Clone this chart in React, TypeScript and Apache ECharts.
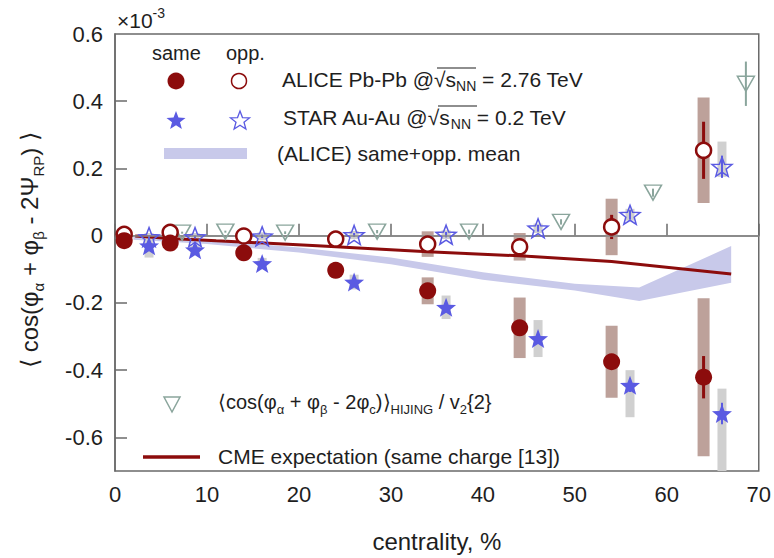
import React, { useEffect, useRef } from "react";
import * as echarts from "echarts";

const FONT = '"Liberation Sans", Arial, Helvetica, sans-serif';
const RED = "#8c0c0c";
const BLUE = "#5a5ae2";
const BAND = "#c8c9ea";
const ALICE_SYS = "#bda19a";
const STAR_SYS = "#d0d0d0";
const HIJING_COL = "#8aa59c";
const TEXT = "#1e1e1e";

// ALICE Pb-Pb @ 2.76 TeV
const aliceX = [1, 6, 14, 24, 34, 44, 54, 64];
const aliceSame = [-0.015, -0.022, -0.051, -0.103, -0.164, -0.274, -0.375, -0.421];
const aliceOpp = [0.004, 0.01, -0.001, -0.01, -0.025, -0.033, 0.026, 0.254];
const aliceSameStat = [0.004, 0.005, 0.006, 0.008, 0.012, 0.018, 0.022, 0.063];
const aliceOppStat = [0.004, 0.005, 0.006, 0.008, 0.012, 0.018, 0.036, 0.085];
const aliceSameSys = [0.008, 0.01, 0.015, 0.02, 0.04, 0.09, 0.107, 0.235];
const aliceOppSys = [0.006, 0.008, 0.012, 0.018, 0.038, 0.041, 0.084, 0.157];

// STAR Au-Au @ 0.2 TeV
const starX = [3.7, 8.7, 16, 26, 36, 46, 56, 66];
const starSame = [-0.03, -0.042, -0.083, -0.138, -0.213, -0.306, -0.445, -0.529];
const starOpp = [-0.004, -0.004, -0.002, 0.002, 0.003, 0.022, 0.062, 0.205];
const starSameStat = [0.005, 0.005, 0.006, 0.008, 0.01, 0.014, 0.02, 0.032];
const starOppStat = [0.004, 0.004, 0.005, 0.006, 0.008, 0.01, 0.014, 0.033];
const starSameSysLow = [-0.065, -0.055, -0.1, -0.16, -0.248, -0.361, -0.54, -0.72];
const starSameSysHigh = [0.005, -0.029, -0.066, -0.116, -0.178, -0.251, -0.4, -0.455];
const starOppSysLow = [-0.016, -0.016, -0.014, -0.01, -0.01, 0.008, 0.045, 0.175];
const starOppSysHigh = [0.008, 0.008, 0.01, 0.014, 0.016, 0.036, 0.08, 0.28];

// HIJING <cos(phi_a + phi_b - 2 phi_c)> / v2{2}
const hijingX = [7.3, 12, 18.5, 28.5, 38.5, 48.5, 58.5, 68.6];
const hijingY = [0.009, 0.012, 0.009, 0.012, 0.012, 0.041, 0.128, 0.452];
const hijingErr = [0.003, 0.003, 0.004, 0.005, 0.006, 0.008, 0.012, 0.066];

// CME expectation (same charge)
const cmeX = [2.2, 6, 11, 22, 34, 44, 54, 61, 67];
const cmeY = [-0.001, -0.008, -0.015, -0.03, -0.048, -0.06, -0.077, -0.097, -0.114];

// (ALICE) same+opp. mean band
const bandX = [2, 10, 20, 30, 40, 50, 57, 67];
const bandUpper = [-0.002, -0.012, -0.035, -0.065, -0.109, -0.143, -0.154, -0.031];
const bandLower = [-0.012, -0.025, -0.05, -0.085, -0.131, -0.163, -0.194, -0.14];

// axis ticks
const xTicks = [0, 10, 20, 30, 40, 50, 60, 70];
const yTickMarks = [-0.6, -0.4, -0.2, 0, 0.2, 0.4];
const yTickLabels = [-0.6, -0.4, -0.2, 0, 0.2, 0.4, 0.6];

const STAR_PATH =
  "path://M100,0 L124.7,66 L195.1,69.1 L139.9,113 L158.8,180.9 L100,142 L41.2,180.9 L60.1,113 L4.9,69.1 L75.3,66 Z";

function starPoints(cx: number, cy: number, R: number, ratio = 0.42) {
  const pts: number[][] = [];
  for (let k = 0; k < 10; k++) {
    const a = -Math.PI / 2 + (k * Math.PI) / 5;
    const r = k % 2 === 0 ? R : R * ratio;
    pts.push([cx + r * Math.cos(a), cy + r * Math.sin(a)]);
  }
  return pts;
}

function clipToGrid(shape: any, params: any) {
  const cs = params.coordSys;
  return echarts.graphic.clipRectByRect(shape, {
    x: cs.x,
    y: cs.y,
    width: cs.width,
    height: cs.height,
  });
}

function boxSeries(data: number[][], width: number, color: string, z: number) {
  return {
    type: "custom",
    silent: true,
    z,
    data,
    renderItem: (params: any, api: any) => {
      const x = api.value(0);
      const top = api.coord([x, api.value(2)]);
      const bot = api.coord([x, api.value(1)]);
      const shape = clipToGrid(
        { x: top[0] - width / 2, y: top[1], width, height: bot[1] - top[1] },
        params
      );
      if (!shape) return null;
      return { type: "rect", shape, style: { fill: color } };
    },
  };
}

function errSeries(data: number[][], color: string, lineWidth: number, z: number) {
  return {
    type: "custom",
    silent: true,
    z,
    data,
    renderItem: (params: any, api: any) => {
      const x = api.value(0);
      const a = api.coord([x, api.value(1)]);
      const b = api.coord([x, api.value(2)]);
      return {
        type: "line",
        shape: { x1: a[0], y1: a[1], x2: b[0], y2: b[1] },
        style: { stroke: color, lineWidth },
      };
    },
  };
}

const symErr = (xs: number[], ys: number[], es: number[]) =>
  xs.map((x, i) => [x, ys[i] - es[i], ys[i] + es[i]]);
const loHi = (xs: number[], lo: number[], hi: number[]) => xs.map((x, i) => [x, lo[i], hi[i]]);
const pairs = (xs: number[], ys: number[]) => xs.map((x, i) => [x, ys[i]]);

function buildOption() {
  const txt = (x: number, y: number, text: string, fontSize: number, rich?: any) => ({
    type: "text",
    x,
    y,
    silent: true,
    style: {
      text,
      fontSize,
      fontFamily: FONT,
      fill: TEXT,
      verticalAlign: "middle",
      rich,
    },
  });
  const overline = (x1: number, x2: number, y: number) => ({
    type: "line",
    silent: true,
    shape: { x1, y1: y, x2, y2: y },
    style: { stroke: TEXT, lineWidth: 1.2 },
  });

  const legendRich = {
    t: { fontSize: 21, fontFamily: FONT, fill: TEXT, lineHeight: 28 },
    s: { fontSize: 14, fontFamily: FONT, fill: TEXT, lineHeight: 14, verticalAlign: "bottom" },
  };
  const hijingRich = {
    t: { fontSize: 20, fontFamily: FONT, fill: TEXT, lineHeight: 28 },
    s: { fontSize: 13, fontFamily: FONT, fill: TEXT, lineHeight: 13, verticalAlign: "bottom" },
  };

  return {
    animation: false,
    grid: {
      left: 115,
      right: 14,
      top: 34,
      bottom: 76,
      show: true,
      borderColor: "#6a6a6a",
      borderWidth: 1.5,
    },
    xAxis: {
      type: "value",
      min: xTicks[0],
      max: xTicks[xTicks.length - 1],
      interval: 10,
      name: "centrality, %",
      nameLocation: "middle",
      nameGap: 58,
      nameTextStyle: { fontSize: 24, fontFamily: FONT, color: TEXT },
      axisLine: { lineStyle: { color: "#6a6a6a", width: 1.5 } },
      axisTick: { inside: true, length: 12, lineStyle: { color: "#6a6a6a", width: 1.5 } },
      axisLabel: { fontSize: 22, fontFamily: FONT, color: TEXT, margin: 12 },
      splitLine: { show: false },
    },
    yAxis: {
      type: "value",
      min: -0.7,
      max: 0.6,
      axisLine: { show: true, lineStyle: { color: "#6a6a6a", width: 1.5 } },
      axisTick: {
        show: true,
        inside: true,
        length: 12,
        customValues: yTickMarks,
        lineStyle: { color: "#6a6a6a", width: 1.5 },
      },
      axisLabel: {
        fontSize: 22,
        fontFamily: FONT,
        color: TEXT,
        margin: 12,
        customValues: yTickLabels,
        formatter: (v: number) => String(Math.round(v * 10) / 10),
      },
      splitLine: { show: false },
    },
    graphic: [
      // y axis title
      {
        type: "text",
        x: 29,
        y: 250,
        rotation: Math.PI / 2,
        silent: true,
        style: {
          text: "{t|⟨ cos(φ}{s|α}{t| + φ}{s|β}{t| - 2Ψ}{s|RP}{t|) ⟩}",
          align: "center",
          verticalAlign: "middle",
          rich: {
            t: { fontSize: 24, fontFamily: FONT, fill: TEXT, lineHeight: 34 },
            s: { fontSize: 15, fontFamily: FONT, fill: TEXT, lineHeight: 15, verticalAlign: "bottom" },
          },
        },
      },
      // exponent
      {
        type: "text",
        x: 117,
        y: 20,
        silent: true,
        style: {
          text: "{a|×10}{b|-3}",
          verticalAlign: "middle",
          rich: {
            a: { fontSize: 21, fontFamily: FONT, fill: TEXT, lineHeight: 28 },
            b: { fontSize: 14, fontFamily: FONT, fill: TEXT, lineHeight: 14, verticalAlign: "top" },
          },
        },
      },
      // legend header
      txt(152, 53, "same", 20),
      txt(226, 53, "opp.", 20),
      // ALICE row
      { type: "circle", silent: true, shape: { cx: 176, cy: 81, r: 8.5 }, style: { fill: RED } },
      {
        type: "circle",
        silent: true,
        shape: { cx: 239, cy: 81, r: 7.5 },
        style: { fill: "#fff", stroke: RED, lineWidth: 1.5 },
      },
      txt(282, 79, "{t|ALICE Pb-Pb @√s}{s|NN}{t| = 2.76 TeV}", 21, legendRich),
      overline(437, 476, 68),
      // STAR row
      { type: "polygon", silent: true, shape: { points: starPoints(176, 121, 10) }, style: { fill: BLUE } },
      {
        type: "polygon",
        silent: true,
        shape: { points: starPoints(240, 121, 10) },
        style: { fill: "none", stroke: BLUE, lineWidth: 1.3 },
      },
      txt(283, 117, "{t|STAR Au-Au @√s}{s|NN}{t| = 0.2 TeV}", 21, legendRich),
      overline(438, 477, 106),
      // mean band row
      { type: "rect", silent: true, shape: { x: 164, y: 148, width: 83, height: 11 }, style: { fill: BAND } },
      txt(277, 153, "(ALICE) same+opp. mean", 21),
      // HIJING row
      {
        type: "polygon",
        silent: true,
        shape: { points: [[164, 397], [180, 397], [172, 412]] },
        style: { fill: "none", stroke: HIJING_COL, lineWidth: 1.5 },
      },
      txt(218, 402, "{t|⟨cos(φ}{s|α}{t| + φ}{s|β}{t| - 2φ}{s|c}{t|)⟩}{s|HIJING}{t| / v}{s|2}{t|{2}}", 20, hijingRich),
      // CME row
      {
        type: "line",
        silent: true,
        shape: { x1: 143, y1: 457, x2: 200, y2: 457 },
        style: { stroke: RED, lineWidth: 3.5 },
      },
      txt(218, 456, "CME expectation (same charge [13])", 21),
    ],
    series: [
      {
        type: "custom",
        silent: true,
        z: 1,
        data: bandX.map((x, i) => [x, bandLower[i], bandUpper[i]]),
        renderItem: (params: any, api: any) => {
          if (params.dataIndex !== 0) return null;
          const up = bandX.map((x, i) => api.coord([x, bandUpper[i]]));
          const lo = bandX.map((x, i) => api.coord([x, bandLower[i]])).reverse();
          return { type: "polygon", shape: { points: up.concat(lo) }, style: { fill: BAND } };
        },
      },
      boxSeries(symErr(aliceX, aliceSame, aliceSameSys), 12, ALICE_SYS, 2),
      boxSeries(symErr(aliceX, aliceOpp, aliceOppSys), 12, ALICE_SYS, 2),
      boxSeries(loHi(starX, starSameSysLow, starSameSysHigh), 9, STAR_SYS, 2),
      boxSeries(loHi(starX, starOppSysLow, starOppSysHigh), 9, STAR_SYS, 2),
      {
        type: "line",
        silent: true,
        z: 3,
        data: pairs(cmeX, cmeY),
        showSymbol: false,
        symbol: "none",
        lineStyle: { color: RED, width: 3 },
        markLine: {
          silent: true,
          symbol: "none",
          label: { show: false },
          lineStyle: { color: "#8a8a8a", width: 1.5, type: "solid" },
          data: [{ yAxis: 0 }],
        },
      },
      errSeries(symErr(aliceX, aliceSame, aliceSameStat), RED, 3, 4),
      errSeries(symErr(aliceX, aliceOpp, aliceOppStat), RED, 3, 4),
      errSeries(symErr(starX, starSame, starSameStat), BLUE, 2, 4),
      errSeries(symErr(starX, starOpp, starOppStat), BLUE, 2, 4),
      errSeries(symErr(hijingX, hijingY, hijingErr), HIJING_COL, 2, 4),
      {
        type: "scatter",
        silent: true,
        z: 5,
        data: pairs(hijingX, hijingY),
        symbol: "triangle",
        symbolRotate: 180,
        symbolSize: [17, 15],
        itemStyle: { color: "rgba(255,255,255,0)", borderColor: HIJING_COL, borderWidth: 1.5, opacity: 1 },
      },
      {
        type: "scatter",
        silent: true,
        z: 5,
        data: pairs(starX, starOpp),
        symbol: STAR_PATH,
        symbolKeepAspect: true,
        symbolSize: 20,
        itemStyle: { color: "rgba(255,255,255,0)", borderColor: BLUE, borderWidth: 1.5, opacity: 1 },
      },
      {
        type: "scatter",
        silent: true,
        z: 5,
        data: pairs(starX, starSame),
        symbol: STAR_PATH,
        symbolKeepAspect: true,
        symbolSize: 20,
        itemStyle: { color: BLUE, opacity: 1 },
      },
      {
        type: "scatter",
        silent: true,
        z: 6,
        data: pairs(aliceX, aliceOpp),
        symbol: "circle",
        symbolSize: 15,
        itemStyle: { color: "#fff", borderColor: RED, borderWidth: 2.5, opacity: 1 },
      },
      {
        type: "scatter",
        silent: true,
        z: 6,
        data: pairs(aliceX, aliceSame),
        symbol: "circle",
        symbolSize: 17,
        itemStyle: { color: RED, opacity: 1 },
      },
    ],
  };
}

export default function App() {
  const ref = useRef<HTMLDivElement>(null);
  useEffect(() => {
    if (!ref.current) return;
    const chart = echarts.init(ref.current, null, { renderer: "svg" });
    chart.setOption(buildOption() as any);
    return () => chart.dispose();
  }, []);
  return (
    <div
      ref={ref}
      style={{ position: "absolute", left: 0, top: 0, width: 774, height: 558, background: "#fff" }}
    />
  );
}
